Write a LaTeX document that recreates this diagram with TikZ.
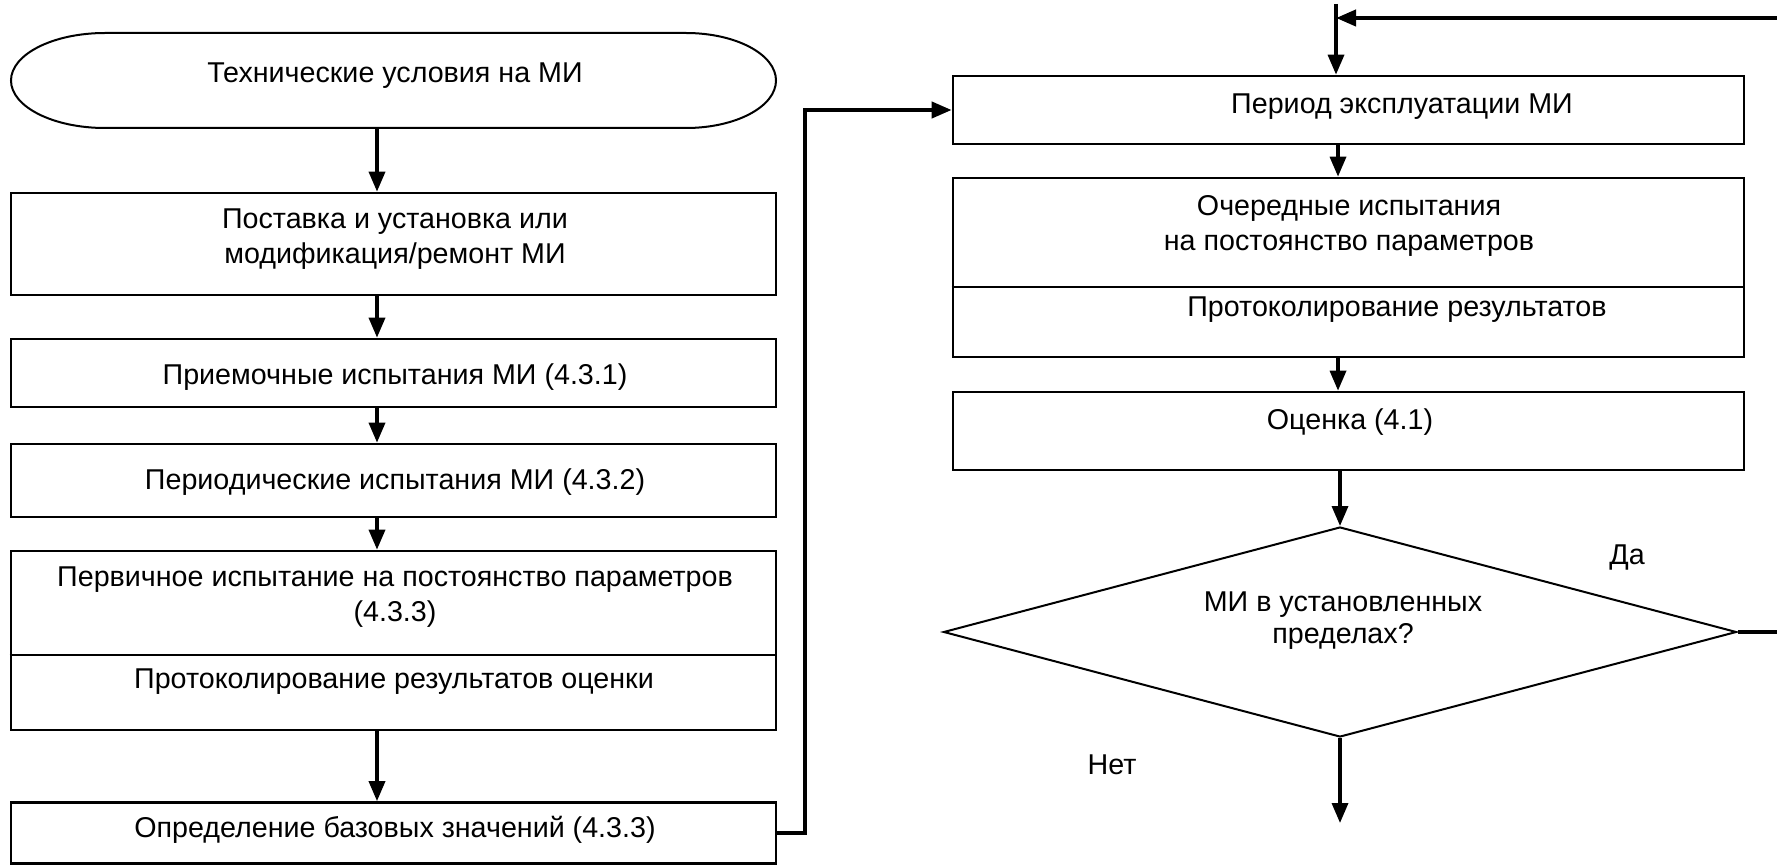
\documentclass[tikz,border=0pt]{standalone}
\usepackage{fontspec}
\setmainfont{Liberation Sans}
\usetikzlibrary{arrows.meta,shapes.geometric}
\tikzset{every picture/.style={line width=0.75pt}}
\tikzset{
  frame/.style={draw, rectangle, line width=2pt, inner sep=0pt},
  lbox/.style={frame, minimum width=573.75pt},
  rbox/.style={frame, minimum width=593.25pt},
  lab/.style={font=\fontsize{21.5}{26}\selectfont, align=center, inner sep=0pt},
  arr/.style={line width=2.6pt, -{Triangle[length=15pt,width=12pt]}},
  loopline/.style={line width=3pt, -{Triangle[length=15pt,width=12pt]}},
}

\begin{document}
\begin{tikzpicture}[x=0.75pt,y=0.75pt,yscale=-1,xscale=1]
\useasboundingbox (0,0) rectangle (1777,866);
\fill[white] (0,0) rectangle (1777,866);
% columns of the arrows
\coordinate (lx) at (377,0);
\coordinate (rx) at (1338,0);
\coordinate (jx) at (805,0);
\coordinate (ldiv) at (0,655);
\coordinate (rdiv) at (0,287);
\coordinate (top) at (1336,4);
\coordinate (junc) at (1336,18);
\coordinate (far) at (1800,18);
\coordinate (out) at (1340,823);

%Shape: Terminal
\draw [line width=1.5pt] (105,33) -- (686,33) arc[start angle=-90,end angle=90,x radius=90,y radius=47.5] -- (105,128) arc[start angle=90,end angle=270,x radius=94,y radius=47.5] -- cycle ;
\coordinate (spec) at (377,128);

%Left column
\node [lbox, minimum height=76.5pt] (supply) at (393.5,244) {};
\node [lbox, minimum height=51pt] (accept) at (393.5,373) {};
\node [lbox, minimum height=54.75pt] (periodic) at (393.5,480.5) {};
\node [lbox, minimum height=134.25pt] (initial) at (393.5,640.5) {};
\draw [line width=2pt] (initial.west |- ldiv) -- (initial.east |- ldiv) ;
\node [lbox, minimum height=45.75pt] (base) at (393.5,833) {};

%Right column
\node [rbox, minimum height=51pt] (period) at (1348.5,110) {};
\node [rbox, minimum height=134.25pt] (routine) at (1348.5,267.5) {};
\draw [line width=2pt] (routine.west |- rdiv) -- (routine.east |- rdiv) ;
\node [rbox, minimum height=58.5pt] (estim) at (1348.5,431) {};
\node [draw, diamond, line width=1.5pt, inner sep=0pt, minimum width=594.75pt, minimum height=157.5pt] (check) at (1340,632) {};

%Straight Lines
\draw [arr] (spec) -- (supply.north -| lx) ;
\draw [arr] (supply.south -| lx) -- (accept.north -| lx) ;
\draw [arr] (accept.south -| lx) -- (periodic.north -| lx) ;
\draw [arr] (periodic.south -| lx) -- (initial.north -| lx) ;
\draw [arr] (initial.south -| lx) -- (base.north -| lx) ;
\draw [loopline] (base.east) -| (jx |- period.west) -- (period.west) ;
\draw [arr] (top) -- (period.north -| top) ;
\draw [arr] (period.south -| rx) -- (routine.north -| rx) ;
\draw [arr] (routine.south -| rx) -- (estim.north -| rx) ;
\draw [arr] (estim.south -| check.north) -- (check.north) ;
\draw [arr] (check.south) -- (out) ;
\draw [loopline] (check.east) -- (check.east -| far) -- (far) -- (junc) ;

% Text Node
\node [lab] (spec-t) at (395,76) {Технические условия на МИ};
\node [lab] (supply-t) at (395,239) {Поставка и установка или\\модификация/ремонт МИ};
\node [lab] (accept-t) at (395,377) {Приемочные испытания МИ (4.3.1)};
\node [lab] (periodic-t) at (395,482) {Периодические испытания МИ (4.3.2)};
\node [lab] (initial-t) at (395,597) {Первичное испытание на постоянство параметров\\(4.3.3)};
\node [lab] (log-t) at (394,682) {Протоколирование результатов оценки};
\node [lab] (base-t) at (395,830) {Определение базовых значений (4.3.3)};
\node [lab] (period-t) at (1402,107) {Период эксплуатации МИ};
\node [lab] (routine-t) at (1349,226) {Очередные испытания\\на постоянство параметров};
\node [lab] (rlog-t) at (1397,310) {Протоколирование результатов};
\node [lab] (estim-t) at (1350,422) {Оценка (4.1)};
\node [lab, font=\fontsize{21.5}{24}\selectfont] (check-t) at (1343,621) {МИ в установленных\\пределах?};
\node [lab] (yes) at (1627,557) {Да};
\node [lab] (no) at (1112,765) {Нет};
\end{tikzpicture}
\end{document}
